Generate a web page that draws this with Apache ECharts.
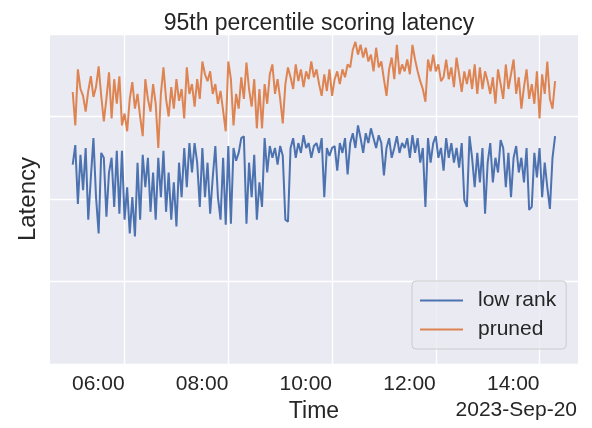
<!DOCTYPE html>
<html>
<head>
<meta charset="utf-8">
<script src="https://cdn.jsdelivr.net/npm/echarts@6/dist/echarts.min.js"></script>
<style>html,body{margin:0;padding:0;background:#fff}#c{width:592px;height:428px}</style>
</head>
<body>
<div id="c"></div>
<script>
// ---- data (latency, arbitrary units; 3-minute samples starting 2023-09-20 05:00) ----
const startTime = [2023, 8, 20, 5, 0];   // y, m(0-based), d, h, min
const stepMinutes = 3;
const seriesNames = ['low rank', 'pruned'];
const lowRank = [203,223,163,213,177,220,147,190,230,170,133,215,210,150,195,210,160,217,153,217,
147,180,133,170,130,205,147,213,180,210,155,195,147,210,170,217,155,195,147,185,
140,205,170,220,180,225,195,225,205,160,220,170,205,153,190,222,170,147,210,142,
222,143,220,207,215,230,232,143,205,170,213,147,185,160,230,195,222,210,220,203,
222,212,147,145,220,230,210,225,215,233,220,225,210,222,225,215,230,170,220,212,
220,222,197,225,215,230,193,225,235,220,243,230,215,235,225,240,230,220,233,225,
192,220,230,210,220,232,215,225,220,230,210,233,215,230,205,220,160,230,205,225,
232,210,220,197,230,210,225,205,220,200,225,167,160,232,210,180,215,185,220,153,
205,225,185,210,195,228,220,180,215,170,210,222,195,210,185,220,157,160,215,190,
220,170,205,180,158,210,232];
const pruned = [277,243,300,280,273,257,278,293,272,282,303,273,247,270,297,250,290,265,293,243,
255,237,270,287,260,275,252,232,290,270,257,285,265,220,275,302,270,252,282,260,
290,268,280,250,302,275,285,262,290,270,308,295,288,298,275,285,265,278,258,237,
308,290,243,275,260,292,270,307,280,262,290,240,280,240,285,265,295,305,275,290,
270,245,285,302,292,280,305,288,300,282,298,290,308,292,300,285,273,295,278,300,
273,290,298,285,300,292,305,302,320,328,315,325,312,322,308,315,298,322,302,308,
290,273,300,312,290,325,295,305,298,310,295,325,310,298,288,280,267,310,298,315,
298,305,288,292,310,290,302,282,312,295,277,298,285,300,280,305,275,302,280,298,
288,275,292,265,300,285,270,305,280,295,310,275,292,260,282,300,270,285,265,298,
250,295,275,308,270,260,288];
const xTickHours = [6, 8, 10, 12, 14];
const xTickLabels = ['06:00', '08:00', '10:00', '12:00', '14:00'];
const dateLabel = '2023-Sep-20';

// ---- build ----
const t0 = new Date(startTime[0], startTime[1], startTime[2], startTime[3], startTime[4]).getTime();
const ts = lowRank.map((_, i) => t0 + i * stepMinutes * 60000);
const tickValues = xTickHours.map(h => new Date(startTime[0], startTime[1], startTime[2], h, 0).getTime());
const xMin = new Date(2023, 8, 20, 4, 33, 45).getTime();
const xMax = new Date(2023, 8, 20, 14, 44, 30).getTime();
const FONT = '"Liberation Sans", Arial, sans-serif';
const TXT = '#262626';

const chart = echarts.init(document.getElementById('c'), null, {renderer: 'canvas'});
chart.setOption({
  animation: false,
  textStyle: {fontFamily: FONT},
  title: {
    text: '95th percentile scoring latency', left: 314, top: 7, textAlign: 'center',
    textStyle: {fontSize: 23, fontWeight: 'normal', color: TXT, fontFamily: FONT}
  },
  grid: {left: 50, right: 14, top: 34, bottom: 57, show: true, backgroundColor: '#EAEAF2', borderWidth: 0},
  legend: {
    orient: 'vertical', left: 412, top: 281, padding: [9, 10, 9, 8],
    itemWidth: 43, itemHeight: 2, itemGap: 8, icon: 'rect',
    backgroundColor: 'rgba(234,234,242,0.8)', borderColor: '#cccccc', borderWidth: 1, borderRadius: 4,
    textStyle: {fontSize: 21, color: TXT, fontFamily: FONT, padding: [0, 0, 0, 10]},
    data: seriesNames
  },
  xAxis: {
    type: 'value', min: xMin, max: xMax,
    axisLine: {show: false},
    axisTick: {show: true, length: 0, customValues: tickValues},
    splitLine: {show: true, lineStyle: {color: '#ffffff', width: 1.3}},
    axisLabel: {
      fontSize: 21, color: TXT, margin: 10, fontFamily: FONT, align: 'right',
      customValues: tickValues,
      formatter: function (v) {
        const i = tickValues.indexOf(v);
        return i >= 0 ? xTickLabels[i] : '';
      }
    },
    name: 'Time', nameLocation: 'middle', nameGap: 34,
    nameTextStyle: {fontSize: 23, color: TXT, fontFamily: FONT}
  },
  yAxis: {
    type: 'value', min: 0, max: 336, interval: 84,
    axisLine: {show: false}, axisTick: {show: false}, axisLabel: {show: false},
    splitLine: {show: true, lineStyle: {color: '#ffffff', width: 1.3}},
    name: 'Latency', nameLocation: 'middle', nameGap: 10, nameRotate: 90,
    nameTextStyle: {fontSize: 24, color: TXT, fontFamily: FONT}
  },
  graphic: [{
    type: 'text', right: 15, top: 400,
    style: {text: dateLabel, fill: TXT, font: '21px ' + FONT}
  }],
  series: [
    {name: seriesNames[0], type: 'line', symbol: 'none', data: ts.map((t, i) => [t, lowRank[i]]),
     lineStyle: {color: '#4C72B0', width: 2}, itemStyle: {color: '#4C72B0'}},
    {name: seriesNames[1], type: 'line', symbol: 'none', data: ts.map((t, i) => [t, pruned[i]]),
     lineStyle: {color: '#DD8452', width: 2}, itemStyle: {color: '#DD8452'}}
  ]
});
</script>
</body>
</html>
